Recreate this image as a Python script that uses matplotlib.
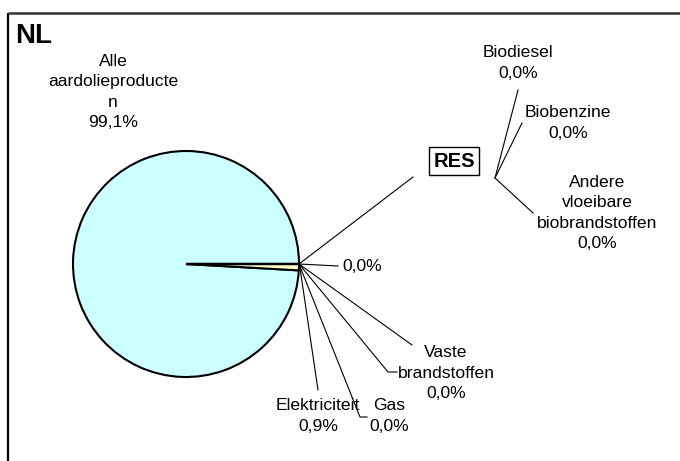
import numpy as np
import matplotlib
matplotlib.use("Agg")
import matplotlib.pyplot as plt

plt.rcParams['font.family'] = ['Liberation Sans', 'DejaVu Sans']

# main pie data (percent shares)
main_labels = ["Alle\naardolieproducte\nn", "Elektriciteit", "Gas",
               "Vaste\nbrandstoffen", "", "", "RES"]
main_values = [99.1, 0.9, 0.0, 0.0, 0.0, 0.0, 0.0]
main_colors = ["#CCFFFF", "#FFFFCC", "#FFFFFF", "#FFFFFF", "#FFFFFF", "#FFFFFF", "#FFFFFF"]

# RES breakdown (secondary, all zero)
res_labels = ["Biodiesel", "Biobenzine", "Andere\nvloeibare\nbiobrandstoffen"]
res_values = [0.0, 0.0, 0.0]


def pct(v):
    return f"{v:.1f}%".replace(".", ",")


fig = plt.figure(figsize=(6.8, 4.61), dpi=100)
ax = fig.add_axes([0, 0, 1, 1])

# pie in pixel-like coordinates (y axis inverted below)
cx, cy, R = 186, 264, 113
wedges, _ = ax.pie(main_values, colors=main_colors, startangle=0, counterclock=False,
                   radius=R, center=(cx, cy),
                   wedgeprops=dict(edgecolor="black", linewidth=1.5))

ax.set_xlim(0, 680)
ax.set_ylim(461, 0)
ax.set_aspect("equal")
ax.axis("off")

# frame (cropped chart area border)
ax.plot([8, 8], [13, 461], color="black", lw=1.6, solid_capstyle="butt")
ax.plot([8, 680], [13, 13], color="#333333", lw=1.8, solid_capstyle="butt")

ax.text(15, 36, "NL", fontsize=20, fontweight="bold", ha="left", va="center")

fs = 12.6
ls = 1.45

# label for the big slice
ax.text(113, 92, main_labels[0] + "\n" + pct(main_values[0]), fontsize=fs,
        ha="center", va="center", linespacing=ls)


def edge_point(w):
    a = np.deg2rad((w.theta1 + w.theta2) / 2)
    # y axis is inverted, so flip the sign of the sin term
    return cx + R * np.cos(a), cy - R * np.sin(a)


# leader line end points (layout)
lines_end = {
    1: [(318, 390)],
    2: [(360, 417), (367, 417)],
    3: [(388, 372), (397, 372)],
    4: [(338, 266)],
    5: [(412, 345)],
    6: [(413, 177)],
}
for i, pts in lines_end.items():
    x0, y0 = edge_point(wedges[i])
    xs = [x0] + [p[0] for p in pts]
    ys = [y0] + [p[1] for p in pts]
    ax.plot(xs, ys, color="black", lw=0.8)

ax.text(318, 416, main_labels[1] + "\n" + pct(main_values[1]), fontsize=fs,
        ha="center", va="center", linespacing=ls)
ax.text(389, 416, main_labels[2] + "\n" + pct(main_values[2]), fontsize=fs,
        ha="center", va="center", linespacing=ls)
ax.text(446, 373, main_labels[3] + "\n" + pct(main_values[3]), fontsize=fs,
        ha="center", va="center", linespacing=ls)
ax.text(342, 266, pct(main_values[4]), fontsize=fs, ha="left", va="center")
ax.text(454, 161, main_labels[6], fontsize=14.5, fontweight="bold",
        ha="center", va="center",
        bbox=dict(boxstyle="square,pad=0.2", fc="white", ec="black", lw=1.0))

# collapsed secondary pie (all zero) and its leader lines
sx, sy = 495, 178
res_ends = [(518, 90), (522, 123), (533, 213)]
res_text = [(518, 63), (568, 123), (597, 213)]
for lab, v, e, t in zip(res_labels, res_values, res_ends, res_text):
    ax.plot([sx, e[0]], [sy, e[1]], color="black", lw=0.8)
    ax.text(t[0], t[1], lab + "\n" + pct(v), fontsize=fs, ha="center", va="center",
            linespacing=ls)

fig.savefig("out.png", dpi=100)
